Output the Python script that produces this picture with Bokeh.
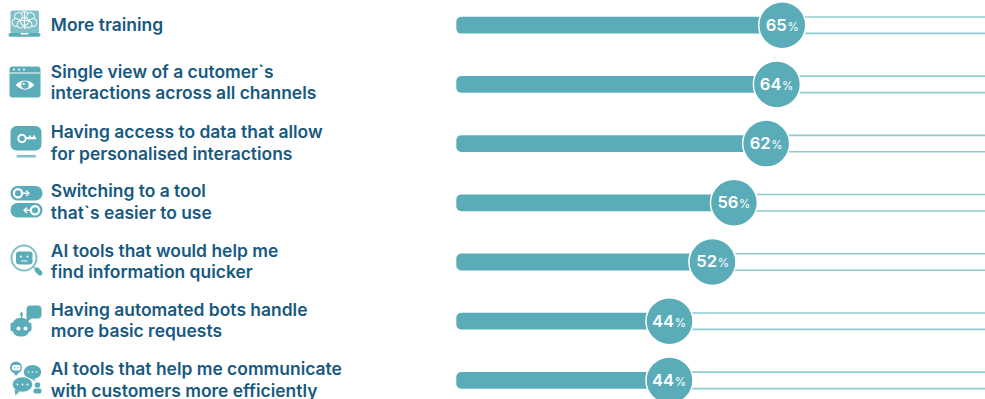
from bokeh.core.properties import value
from bokeh.embed import file_html
from bokeh.models import ColumnDataSource, Range1d
from bokeh.plotting import figure
from bokeh.resources import INLINE

# Survey results, top to bottom
first_lines = [
    "More training",
    "Single view of a cutomer`s",
    "Having access to data that allow",
    "Switching to a tool",
    "AI tools that would help me",
    "Having automated bots handle",
    "AI tools that help me communicate",
]
second_lines = [
    "",
    "interactions across all channels",
    "for personalised interactions",
    "that`s easier to use",
    "find information quicker",
    "more basic requests",
    "with customers more efficiently",
]
shares = [65, 64, 62, 56, 52, 44, 44]
rows = list(range(len(shares)))

TEAL = "#5aadb8"
TRACK = "#8fcad1"
INK = "#18597f"
CAPTION_FONT = value("Inter SemiBold")
FONT = value("Inter")

# Bars begin a little way in from the scale's zero
BAR_START = 4.3
SCALE_END = 102.85

p = figure(
    width=985, height=399, output_backend="svg", toolbar_location=None,
    x_range=Range1d(-80.58, SCALE_END), y_range=Range1d(6.323, -0.417),
    min_border=0, outline_line_color=None, background_fill_color="white",
)
p.xaxis.visible = False
p.yaxis.visible = False
p.grid.visible = False
# A page-unit coordinate system for the text column and pictograms
p.extra_x_ranges["page"] = Range1d(0, 985)
p.extra_y_ranges["page"] = Range1d(399, 0)
PAGE = dict(x_range_name="page", y_range_name="page")

src = ColumnDataSource(dict(
    row=rows, share=shares,
    start=[BAR_START] * len(rows),
    end=[SCALE_END] * len(rows),
    top_rail=[r - 0.139 for r in rows],
    low_rail=[r + 0.139 for r in rows],
    number=[str(s) for s in shares],
    pct=["%"] * len(rows),
))

# Thin rails running out to the edge of the scale
p.segment(x0="share", x1="end", y0="top_rail", y1="top_rail", source=src,
          line_color=TRACK, line_width=1.6)
p.segment(x0="share", x1="end", y0="low_rail", y1="low_rail", source=src,
          line_color=TRACK, line_width=1.6)

# Solid bars with rounded ends
p.hbar(y="row", left="start", right="share", height=0.284, source=src,
       fill_color=TEAL, line_color=None, border_radius=5)

# Value discs
p.scatter(x="share", y="row", size=47, marker="circle", source=src,
          fill_color=TEAL, line_color="white", line_width=1.5)
p.text(x="share", y="row", text="number", source=src, text_color="white",
       text_font=CAPTION_FONT, text_font_size="16.5px",
       text_align="right", text_baseline="alphabetic",
       x_offset=4.5, y_offset=-0.5)
p.text(x="share", y="row", text="pct", source=src, text_color="white",
       text_font=FONT, text_font_size="11.5px",
       text_align="left", text_baseline="alphabetic",
       x_offset=5.2, y_offset=1.5)

# Row captions
ROW_STEP = 59.2
for i, (a, b) in enumerate(zip(first_lines, second_lines)):
    if i == 0:
        p.text([50.3], [24], text=[a], **PAGE)
    else:
        base_a = 72 + (i - 1) * ROW_STEP - (1.5 if i == 1 else 0)
        p.text([50.3], [base_a], text=[a], **PAGE)
        p.text([50.3], [base_a + 21.5], text=[b], **PAGE)
for r in p.renderers:
    g = r.glyph
    if r.x_range_name == "page" and g.__class__.__name__ == "Text":
        g.text_color = INK
        g.text_font = CAPTION_FONT
        g.text_font_size = "17.45px"
        g.text_baseline = "alphabetic"


def box(x0, y0, x1, y1, color=TEAL, radius=0):
    p.quad(left=[x0], right=[x1], top=[y0], bottom=[y1], fill_color=color,
           line_color=None, border_radius=int(round(radius)), **PAGE)


def disc(x, y, d, color=TEAL, line=None, lw=1.0):
    p.scatter([x], [y], size=d, marker="circle", fill_color=color,
              line_color=line, line_width=lw, **PAGE)


def oval(x, y, w, h, color=TEAL, line=None, lw=1.0):
    p.ellipse([x], [y], width=w, height=h, fill_color=color,
              line_color=line, line_width=lw, **PAGE)


def poly(xs, ys, color=TEAL):
    p.patch(xs, ys, fill_color=color, line_color=None, **PAGE)


def stroke(xs, ys, color=TEAL, lw=1.0):
    p.line(xs, ys, line_color=color, line_width=lw, line_cap="round", **PAGE)


# Laptop with a brain on its screen
box(10, 10, 38.5, 33, "#7fc0c9", 2)
for cx, cy, d in [(24, 15, 8), (18, 16, 8), (30, 16, 8), (15.5, 22, 8), (32.5, 22, 8),
                  (20, 24, 7), (28, 24, 7), (24, 21, 8)]:
    disc(cx, cy, d, "#7fc0c9", "white", 1.0)
stroke([24, 24], [12, 28], "white", 1.2)
stroke([19, 29], [20, 20], "white", 1.0)
box(8, 32.5, 40, 36.2, TEAL, 2)
box(20, 32.5, 28, 34, "white", 1)

# Browser window with an eye
box(9, 66, 40, 97, TEAL, 3)
box(9, 72, 40, 73, "white")
for cx in (13.5, 18.5, 23.5):
    disc(cx, 69, 2, "white")
poly([15, 18, 21, 24.5, 28, 31, 34, 31, 28, 24.5, 21, 18],
     [84.5, 82, 80.6, 80, 80.6, 82, 84.5, 87, 88.6, 89.2, 88.6, 87], "white")
disc(24.5, 84.5, 7.5, TEAL)
disc(23.2, 83.6, 2.2, "white")

# Monitor with a key
box(10, 125.5, 41, 150, TEAL, 6)
box(16, 154.5, 35.5, 157, "#7fc0c9", 1)
disc(21.5, 138, 7.5, TEAL, "white", 2)
box(24.5, 136.6, 35.5, 138.8, "white")
box(28.5, 135, 30.5, 137, "white")
box(32.5, 135, 34.5, 137, "white")

# Pair of toggles with arrows
box(10, 185.5, 42, 200, TEAL, 7)
box(10, 202.5, 42, 217, TEAL, 7)
disc(17.5, 192.8, 10.5, "white")
disc(34.5, 209.8, 10.5, "white")
disc(17.5, 192.8, 6, TEAL)
disc(34.5, 209.8, 6, TEAL)
stroke([23, 28], [192.8, 192.8], "white", 1.5)
stroke([26, 28.5, 26], [190.5, 192.8, 195], "white", 1.5)
stroke([24, 29], [209.8, 209.8], "white", 1.5)
stroke([26, 23.5, 26], [207.5, 209.8, 212], "white", 1.5)

# Magnifying glass over a robot face
disc(23.5, 257.5, 25, "white", "#7fc0c9", 2)
box(15.5, 251, 32, 264, TEAL, 3)
disc(20.5, 256, 2, "white")
disc(27, 256, 2, "white")
box(20.5, 260, 27, 261, "white")
stroke([33, 35.5], [266.5, 269], "#7fc0c9", 1.5)
stroke([36.5, 39.5], [269.5, 272.5], TEAL, 5)

# Robot with a speech bubble
box(26, 305, 41, 318, TEAL, 4)
poly([26, 31, 26], [314, 318, 322], TEAL)
box(10, 322, 14, 331, TEAL, 2)
box(27, 322, 31, 331, TEAL, 2)
box(12, 317.5, 29, 336, TEAL, 7)
stroke([21, 21], [312, 317], TEAL, 1.5)
disc(21, 314, 2.5, TEAL)
disc(18, 328, 4, "white")
disc(25, 328, 4, "white")

# Speech bubbles and a person
disc(15.5, 367, 12, TEAL)
box(11.5, 364.5, 20, 370, "white", 2)
disc(14, 367.3, 1.4, TEAL)
disc(17.5, 367.3, 1.4, TEAL)
poly([13, 18.5, 15.5], [372, 372, 375.5], TEAL)
oval(32, 371.5, 17.5, 14)
poly([28, 33, 35], [376, 376, 381], TEAL)
oval(22, 384, 20.5, 15.5, TEAL, "white", 1.0)
poly([14, 19, 15], [389, 391, 395], TEAL)
for cx in (28, 32, 36):
    disc(cx, 371.5, 1.6, "white")
for cx in (17, 22, 27):
    disc(cx, 384, 1.8, "white")
disc(37, 384.5, 5.5, TEAL)
box(33, 388, 41, 393, TEAL, 2)

open("out.html", "w").write(file_html(p, INLINE))
